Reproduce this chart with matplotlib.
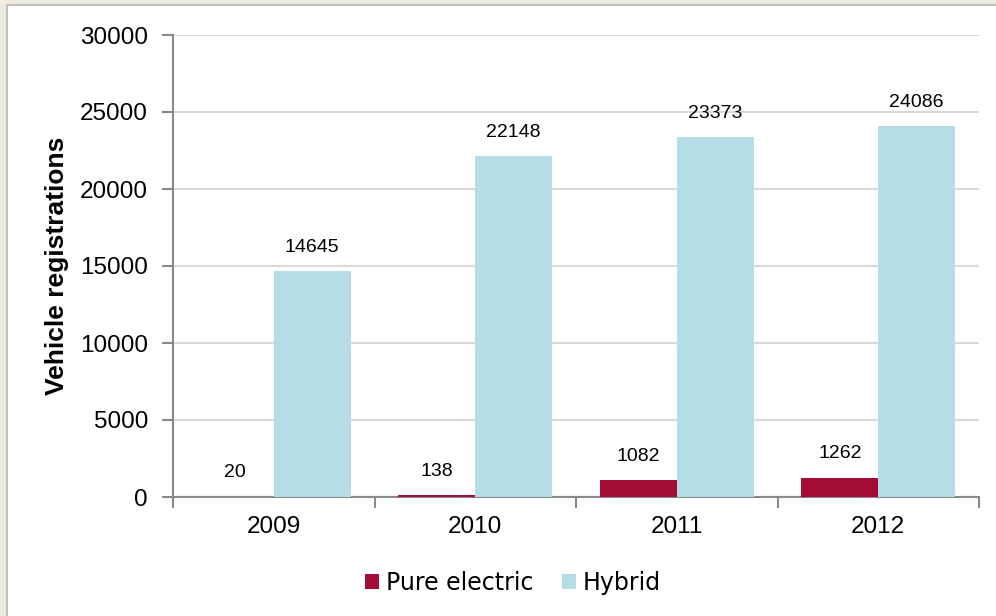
import numpy as np
import matplotlib.pyplot as plt
from matplotlib.patches import Rectangle

years = ['2009', '2010', '2011', '2012']
pure_electric = [20, 138, 1082, 1262]
hybrid = [14645, 22148, 23373, 24086]

plt.rcParams['font.family'] = ['Liberation Sans', 'DejaVu Sans']

fig = plt.figure(figsize=(9.96, 6.16), dpi=100, facecolor='#EEECE1')
# panel blanco con borde gris
fig.patches.append(Rectangle((7 / 996, -0.1), 1.2, 1.1 - 5 / 616, transform=fig.transFigure,
                             facecolor='white', edgecolor='#C0C0C0', linewidth=1.5, zorder=-1))

ax = fig.add_axes([173 / 996, 1 - 497 / 616, (979 - 173) / 996, (497 - 35) / 616])
ax.set_zorder(1)
ax.set_facecolor('white')

x = np.arange(len(years))
ancho = 0.382
b1 = ax.bar(x - ancho / 2, pure_electric, ancho, color='#A20C35', label='Pure electric', zorder=3)
b2 = ax.bar(x + ancho / 2, hybrid, ancho, color='#B4DDE5', label='Hybrid', zorder=3)

for barras in (b1, b2):
    for b in barras:
        ax.annotate(str(int(b.get_height())), (b.get_x() + b.get_width() / 2, b.get_height()),
                    xytext=(0, 11), textcoords='offset points', ha='center', va='bottom',
                    fontsize=14, color='black')

ax.set_xlim(-0.5, len(years) - 0.5)
ax.set_ylim(0, 30000)
ax.set_yticks(np.arange(0, 30001, 5000))
ax.yaxis.grid(True, color='#D9D9D9', linewidth=1.5, zorder=0)
ax.set_axisbelow(True)

ax.set_xticks(x)
ax.set_xticklabels(years)
ax.set_xticks(np.arange(-0.5, len(years), 1), minor=True)
ax.tick_params(axis='x', which='major', length=0, labelsize=17.5, pad=14)
ax.tick_params(axis='x', which='minor', length=8, width=1.5, color='#898989', direction='out')
ax.tick_params(axis='y', length=8, width=1.5, color='#898989', labelsize=17.5, pad=10)

for s in ['top', 'right']:
    ax.spines[s].set_visible(False)
for s in ['left', 'bottom']:
    ax.spines[s].set_color('#898989')
    ax.spines[s].set_linewidth(1.5)

ax.set_ylabel('Vehicle registrations', fontsize=19, fontweight='bold', labelpad=8)

fig.legend(handles=[b1, b2], loc='center', bbox_to_anchor=(0.515, 1 - 583 / 616), ncol=2,
           frameon=False, prop={'family': 'DejaVu Sans', 'size': 17},
           handlelength=0.6, handleheight=0.6, handletextpad=0.3, columnspacing=1.2)

plt.savefig('out.png', dpi=100, facecolor=fig.get_facecolor())
